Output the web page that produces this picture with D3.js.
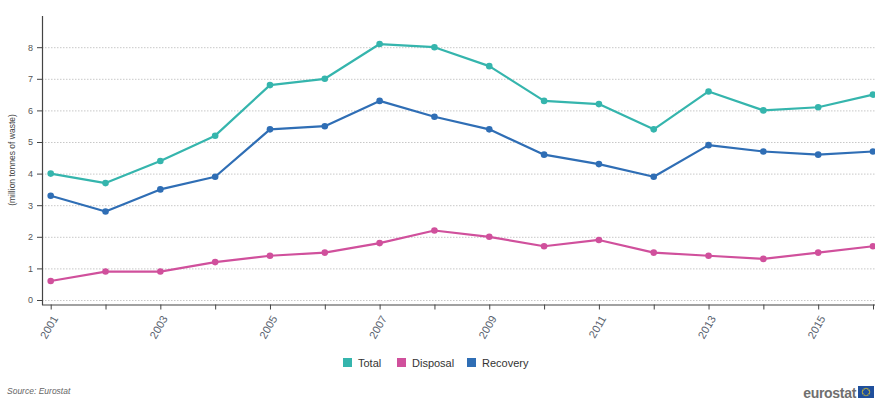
<!DOCTYPE html>
<html>
<head>
<meta charset="utf-8">
<script src="https://cdn.jsdelivr.net/npm/d3@7"></script>
<style>
  html, body { margin: 0; padding: 0; background: #fff; }
  svg { display: block; font-family: "Liberation Sans", Arial, sans-serif; }
</style>
</head>
<body>
<svg id="chart" width="875" height="401"></svg>
<script>
// Waste treatment, million tonnes, 2001-2016
const years = [2001, 2002, 2003, 2004, 2005, 2006, 2007, 2008, 2009, 2010, 2011, 2012, 2013, 2014, 2015, 2016];
const total    = [4.0, 3.7, 4.4, 5.2, 6.8, 7.0, 8.1, 8.0, 7.4, 6.3, 6.2, 5.4, 6.6, 6.0, 6.1, 6.5];
const disposal = [0.6, 0.9, 0.9, 1.2, 1.4, 1.5, 1.8, 2.2, 2.0, 1.7, 1.9, 1.5, 1.4, 1.3, 1.5, 1.7];
const recovery = [3.3, 2.8, 3.5, 3.9, 5.4, 5.5, 6.3, 5.8, 5.4, 4.6, 4.3, 3.9, 4.9, 4.7, 4.6, 4.7];
const yTicks = [0, 1, 2, 3, 4, 5, 6, 7, 8];
const xLabelYears = [2001, 2003, 2005, 2007, 2009, 2011, 2013, 2015];

const seriesNames = ["Total", "Disposal", "Recovery"];
const seriesColors = ["#35b5ad", "#d0509c", "#2f6eb5"];
const seriesValues = [total, disposal, recovery];

(function draw() {
  const svg = d3.select("#chart");
  const plotLeft = 42, plotRight = 873, plotTop = 16, zeroY = 300, axisY = 304.5;

  const x = d3.scaleLinear().domain([2001, 2016]).range([50.7, plotRight]);
  const y = d3.scaleLinear().domain([0, 9]).range([zeroY, zeroY - 9 * 31.6]);

  // Dotted horizontal gridlines
  svg.append("g").selectAll("line").data(yTicks).join("line")
    .attr("x1", plotLeft).attr("x2", 875)
    .attr("y1", d => y(d) + 0.5).attr("y2", d => y(d) + 0.5)
    .attr("stroke", "#c8c8c8").attr("stroke-width", 1)
    .attr("stroke-dasharray", "1.5,1.5");

  // Y axis
  const yAxis = d3.axisLeft(y).tickValues(yTicks).tickSize(5).tickPadding(4).tickFormat(d3.format("d"));
  const gy = svg.append("g").attr("transform", `translate(${plotLeft},0)`).call(yAxis);
  gy.select(".domain").remove();
  gy.selectAll(".tick line").attr("stroke", "#444");
  gy.selectAll(".tick text").attr("fill", "#555").style("font-size", "9px").style("font-family", "Liberation Sans, Arial, sans-serif");
  svg.append("line").attr("x1", plotLeft + 0.5).attr("x2", plotLeft + 0.5).attr("y1", plotTop).attr("y2", axisY + 0.5)
    .attr("stroke", "#444").attr("stroke-width", 1.2);

  // X axis
  const xAxis = d3.axisBottom(x).tickValues(years).tickSize(5).tickFormat(d => xLabelYears.includes(d) ? String(d) : "");
  const gx = svg.append("g").attr("transform", `translate(0,${axisY})`).call(xAxis);
  gx.select(".domain").remove();
  gx.selectAll(".tick line").attr("stroke", "#444");
  gx.selectAll(".tick text")
    .attr("fill", "#5a6370")
    .style("font-size", "11px")
    .style("font-family", "Liberation Sans, Arial, sans-serif")
    .attr("text-anchor", "end")
    .attr("dy", "0.35em")
    .attr("transform", "translate(-3,8) rotate(-60)");
  svg.append("line").attr("x1", plotLeft).attr("x2", 875).attr("y1", axisY + 0.5).attr("y2", axisY + 0.5)
    .attr("stroke", "#444").attr("stroke-width", 1.2);

  // Y axis title
  svg.append("text")
    .attr("transform", `translate(15,160) rotate(-90)`)
    .attr("text-anchor", "middle")
    .attr("fill", "#444")
    .style("font-size", "8.5px")
    .text("(million tonnes of waste)");

  // Lines and markers
  const line = d3.line().x((d, i) => x(years[i])).y(d => y(d));
  seriesValues.forEach((vals, k) => {
    svg.append("path").datum(vals)
      .attr("d", line)
      .attr("fill", "none")
      .attr("stroke", seriesColors[k])
      .attr("stroke-width", 2.2)
      .attr("stroke-linejoin", "round");
    svg.append("g").selectAll("circle").data(vals).join("circle")
      .attr("cx", (d, i) => x(years[i]))
      .attr("cy", d => y(d))
      .attr("r", 3.3)
      .attr("fill", seriesColors[k]);
  });

  // Legend
  const legendX = [343, 397, 467];
  const lg = svg.append("g");
  seriesNames.forEach((name, k) => {
    lg.append("rect").attr("x", legendX[k]).attr("y", 358).attr("width", 9).attr("height", 9).attr("fill", seriesColors[k]);
    lg.append("text").attr("x", legendX[k] + 15).attr("y", 366.5)
      .attr("fill", "#333").style("font-size", "11px").text(name);
  });

  // Source note
  svg.append("text").attr("x", 7).attr("y", 394)
    .attr("fill", "#666").style("font-size", "8.5px").style("font-style", "italic")
    .text("Source: Eurostat");

  // eurostat logo
  svg.append("text").attr("x", 856).attr("y", 398).attr("text-anchor", "end")
    .attr("fill", "#6f6f6f").style("font-size", "14px").style("font-weight", "bold")
    .style("letter-spacing", "-0.3px")
    .text("eurostat");
  svg.append("rect").attr("x", 858).attr("y", 386).attr("width", 16).attr("height", 12).attr("fill", "#1f4f9c");
  const stars = d3.range(12).map(i => i * Math.PI * 2 / 12);
  svg.append("g").selectAll("circle").data(stars).join("circle")
    .attr("cx", a => 866 + 3.6 * Math.cos(a))
    .attr("cy", a => 392 + 3.6 * Math.sin(a))
    .attr("r", 0.7).attr("fill", "#f5d21e");
})();
</script>
</body>
</html>
